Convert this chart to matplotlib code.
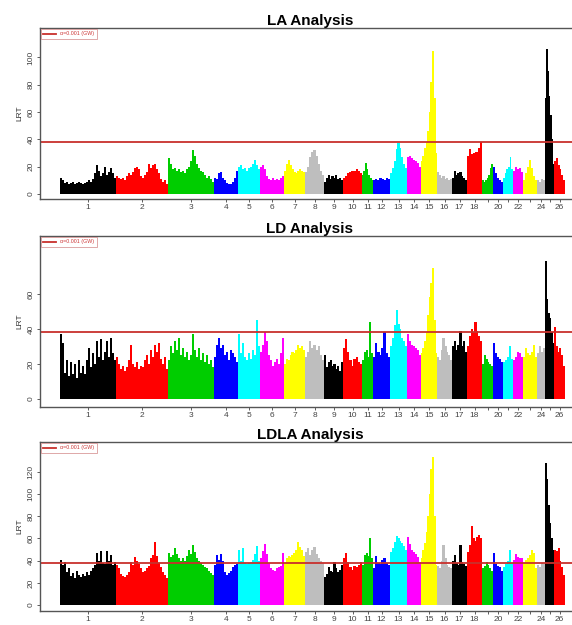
import matplotlib.pyplot as plt
import numpy as np

plt.rcParams['font.family'] = ['Liberation Sans', 'DejaVu Sans']

# chromosome lengths (Mb) and labels, 26 autosomes
chrom_len_mb = [280, 260, 230, 120, 110, 120, 105, 95, 95, 95, 55, 85, 85,
                70, 80, 75, 75, 75, 55, 50, 50, 50, 70, 40, 45, 55]
chrom_labels = ['1', '2', '3', '4', '5', '6', '7', '8', '9', '10', '11', '12', '13',
                '14', '15', '16', '17', '18', '', '20', '', '22', '', '24', '', '26']
# R default palette, recycled along the chromosomes
chrom_colors = ['#000000', '#ff0000', '#00cd00', '#0000ff',
                '#00ffff', '#ff00ff', '#ffff00', '#bebebe']

threshold = 38.3  # genome-wide 0.001 line

# LRT profile, one list per chromosome
la_lrt = [
    [12, 10, 8, 9, 7, 8, 9, 7, 8, 9, 8, 7, 8, 9, 10, 9, 11, 15, 21, 17, 13, 15, 20, 14, 16, 19, 15, 12],
    [13, 12, 11, 12, 10, 13, 15, 14, 16, 19, 20, 18, 13, 12, 14, 16, 22, 19, 21, 22, 18, 15, 11, 9, 10, 7],
    [26, 22, 18, 19, 17, 18, 16, 17, 15, 18, 20, 24, 32, 28, 22, 19, 17, 16, 14, 12, 13, 11, 9],
    [12, 11, 15, 16, 12, 10, 8, 7, 7, 9, 12, 17],
    [20, 21, 18, 19, 17, 19, 20, 22, 25, 21, 18],
    [20, 21, 18, 13, 11, 10, 12, 10, 11, 10, 12, 13],
    [17, 22, 25, 21, 18, 16, 15, 17, 18, 17, 16],
    [16, 20, 27, 31, 32, 28, 22, 17, 14],
    [9, 12, 14, 11, 13, 12, 14, 11, 12, 10],
    [12, 13, 15, 16, 17, 17, 18, 17, 15],
    [14, 17, 23, 18, 14, 12, 10],
    [10, 11, 10, 12, 11, 10, 12, 11],
    [15, 19, 24, 33, 37, 34, 27, 22, 19],
    [27, 28, 26, 25, 24, 23, 20],
    [24, 28, 34, 38, 46, 60, 82, 105, 70, 30],
    [16, 14, 12, 13, 11, 12, 10, 11],
    [12, 17, 14, 15, 16, 13, 12, 10],
    [28, 33, 29, 30, 31, 34, 38],
    [10, 9, 10, 12, 14, 19, 22],
    [20, 15, 12, 10, 9],
    [12, 15, 18, 20, 27, 18],
    [17, 20, 18, 19, 16],
    [10, 15, 20, 25, 19, 13, 10],
    [10, 9, 11, 10],
    [70, 106, 90, 72, 58, 40, 22],
    [24, 26, 21, 18, 14, 10],
]

ld_lrt = [
    [37, 32, 15, 22, 13, 21, 14, 20, 12, 22, 15, 19, 14, 22, 29, 18, 26, 20, 33, 24, 34, 22, 27, 33, 24, 35, 26, 22],
    [24, 20, 17, 19, 16, 18, 22, 31, 20, 18, 21, 17, 19, 18, 22, 25, 20, 28, 24, 31, 27, 32, 23, 20, 24, 17],
    [22, 30, 26, 33, 28, 35, 25, 29, 24, 27, 22, 25, 37, 28, 24, 29, 22, 26, 21, 25, 20, 22, 18],
    [24, 31, 35, 29, 31, 25, 27, 22, 28, 26, 24, 21],
    [37, 26, 32, 24, 22, 26, 23, 28, 25, 45, 30],
    [27, 31, 38, 33, 25, 22, 19, 21, 23, 20, 26, 35],
    [20, 23, 22, 25, 27, 26, 28, 31, 29, 30, 28],
    [24, 27, 33, 29, 31, 28, 30, 25, 22],
    [25, 18, 21, 22, 19, 20, 17, 19, 16, 21],
    [29, 34, 27, 22, 19, 23, 24, 21, 20],
    [22, 27, 28, 24, 44, 26],
    [24, 32, 27, 25, 29, 38, 26, 24],
    [30, 35, 42, 51, 43, 40, 35, 33, 30],
    [37, 33, 31, 30, 29, 28, 25],
    [26, 29, 33, 38, 48, 58, 66, 75, 45, 26],
    [24, 22, 28, 35, 30, 27, 25, 22],
    [30, 33, 28, 31, 39, 30, 33, 27],
    [30, 36, 40, 38, 44, 39, 36, 33],
    [20, 25, 23, 21, 20, 19],
    [32, 26, 24, 23, 21],
    [21, 22, 24, 30, 23],
    [22, 24, 27, 26, 24],
    [24, 29, 26, 25, 27, 31, 24],
    [26, 30, 27, 29],
    [79, 57, 49, 46, 38, 32],
    [41, 30, 27, 29, 25, 19],
]

ldla_lrt = [
    [41, 36, 39, 30, 33, 26, 29, 24, 31, 27, 25, 28, 26, 30, 27, 31, 33, 36, 47, 40, 49, 38, 37, 49, 40, 45, 36, 39],
    [36, 33, 28, 26, 25, 27, 30, 39, 36, 43, 40, 37, 33, 30, 31, 33, 35, 42, 45, 57, 44, 38, 34, 30, 27, 24],
    [47, 43, 45, 51, 46, 42, 40, 42, 40, 44, 50, 46, 54, 48, 42, 40, 38, 36, 34, 33, 31, 29, 27],
    [36, 45, 41, 46, 40, 30, 27, 29, 31, 34, 36, 37],
    [50, 40, 51, 38, 37, 38, 39, 41, 46, 53, 40],
    [42, 49, 55, 46, 38, 33, 32, 31, 33, 34, 35, 47],
    [38, 42, 44, 43, 45, 47, 50, 57, 52, 50, 44],
    [48, 51, 45, 50, 52, 46, 42, 40, 38],
    [25, 28, 34, 31, 30, 39, 33, 30, 32, 36],
    [42, 47, 39, 34, 32, 35, 34, 36, 39],
    [36, 45, 47, 44, 60, 42],
    [33, 44, 38, 37, 41, 42, 38, 36],
    [48, 51, 57, 62, 60, 58, 56, 53, 50],
    [61, 55, 50, 48, 46, 43, 39],
    [42, 50, 56, 66, 80, 100, 122, 133, 80, 36],
    [35, 33, 40, 54, 42, 36, 34, 33],
    [40, 45, 38, 36, 54, 39, 37, 35],
    [48, 54, 71, 60, 58, 61, 63, 60],
    [33, 35, 39, 36, 33, 31],
    [47, 37, 35, 34, 31],
    [34, 37, 40, 50, 38],
    [41, 46, 43, 42, 42],
    [38, 41, 42, 45, 50, 47, 33],
    [36, 34, 38, 37],
    [128, 113, 90, 74, 60, 50],
    [50, 49, 51, 40, 34, 27],
]

titles = ['LA Analysis', 'LD Analysis', 'LDLA Analysis']
ylims = [(-3.7, 121.6), (-4.6, 93.1), (-5.3, 146.7)]
yticks = [[0, 20, 40, 60, 80, 100], [0, 20, 40, 60], [0, 20, 40, 60, 80, 100, 120]]

fig = plt.figure(figsize=(5.72, 6.25), dpi=100)

# axes boxes in figure pixels: top, bottom (the right side runs off the figure)
boxes = [(28, 199), (236, 407), (442, 611)]
W, H = 572.0, 625.0

starts = np.concatenate([[0], np.cumsum(chrom_len_mb)[:-1]])
centers = starts + np.array(chrom_len_mb) / 2.0

for k, lrt in enumerate([la_lrt, ld_lrt, ldla_lrt]):
    top, bot = boxes[k]
    ax = fig.add_axes([40 / W, 1 - bot / H, 544 / W, (bot - top) / H])

    for c in range(26):
        vals = lrt[c]
        n = len(vals)
        step = chrom_len_mb[c] / n
        xs = starts[c] + (np.arange(n) + 0.5) * step
        ax.bar(xs, vals, width=step * 1.15, color=chrom_colors[c % 8], linewidth=0)

    ax.axhline(threshold, color='#c8302c', linewidth=1.3, label='\u03b1=0.001 (GW)')

    ax.set_xlim(-100, 2620)
    ax.set_ylim(*ylims[k])
    ax.set_xticks(centers)
    ax.set_xticklabels(chrom_labels)
    ax.set_yticks(yticks[k])
    ax.set_yticklabels([str(v) for v in yticks[k]], rotation=90, va='center')
    ax.tick_params(axis='both', direction='out', length=2.5, width=0.6,
                   colors='#444444', labelsize=6, pad=1.5)
    ax.tick_params(axis='x', pad=1)
    for s in ax.spines.values():
        s.set_color('#555555')
        s.set_linewidth(1.0)
    ax.set_ylabel('LRT', fontsize=6, color='#333333', labelpad=3)
    ax.set_title(titles[k], fontsize=11, fontweight='bold', pad=1.5, x=(310 - 40) / 544)

    leg = ax.legend(loc='upper left', fontsize=3.8, frameon=True, fancybox=False,
                    borderaxespad=0.15, handlelength=2.4, borderpad=0.5,
                    labelcolor='#cc3333')
    leg.get_frame().set_edgecolor('#d08080')
    leg.get_frame().set_linewidth(0.6)

plt.savefig('out.png', dpi=100)
